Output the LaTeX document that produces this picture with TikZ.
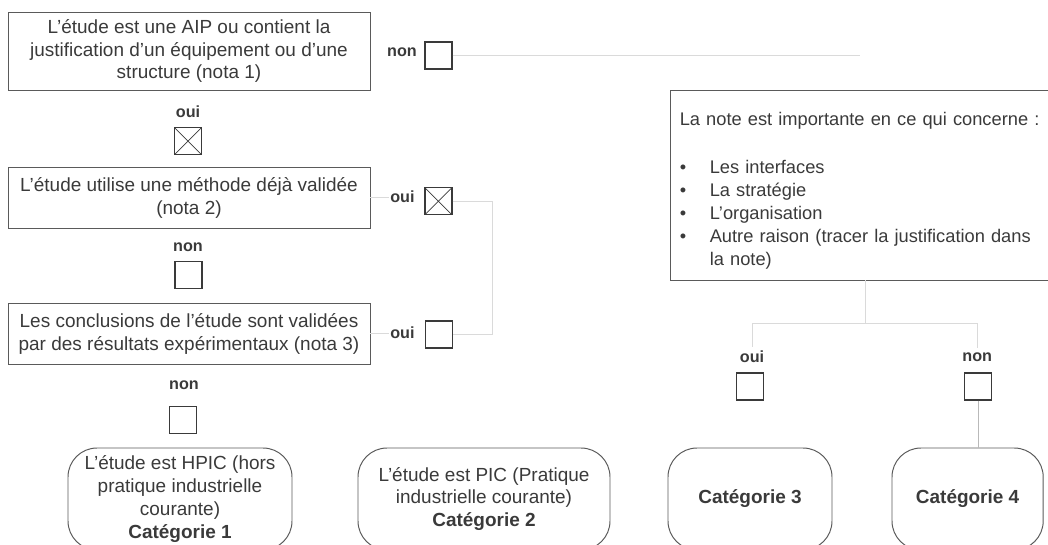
\documentclass[tikz,border=0pt]{standalone}
\usepackage{fontspec}
\setmainfont{Liberation Sans}
\usepackage{tikz}
\usetikzlibrary{positioning}
\definecolor{inkGray}{HTML}{3A3A3A}
\definecolor{frameGray}{HTML}{5A5A5A}
\definecolor{linkGray}{HTML}{DADADA}

\tikzset{
  question/.style={draw=frameGray, line width=0.7pt, minimum width=9.05cm,
    minimum height=1.525cm, align=center, text=inkGray, inner sep=0pt,
    font=\fontsize{13.5}{16.3}\selectfont},
  answer/.style={text=inkGray, inner sep=0pt,
    font=\fontsize{11.5}{13}\selectfont\bfseries},
  tickbox/.style={draw=inkGray, line width=1.1pt, minimum size=0.675cm, inner sep=0pt},
  crossbox/.style={tickbox, path picture={
    \draw[inkGray, line width=0.5pt]
      (path picture bounding box.south west) -- (path picture bounding box.north east)
      (path picture bounding box.north west) -- (path picture bounding box.south east);}},
  result/.style={draw=frameGray, line width=0.7pt, rounded corners=0.725cm,
    minimum height=2.55cm, align=center, text=inkGray, inner sep=0pt,
    font=\fontsize{13.5}{16.3}\selectfont},
  link/.style={draw=linkGray, line width=0.5pt}
}

\begin{document}
\begin{tikzpicture}
  \useasboundingbox (0,0) rectangle (26.2,-13.625);
  \clip (0,0) rectangle (26.2,-13.625);

  %% questions
  % AIP
  \node[question, minimum height=1.95cm] (aip) at (4.725,-1.275)
    {L'étude est une AIP ou contient la\\justification d'un équipement ou d'une\\structure (nota 1)};
  \node[answer] (nonA) at (10.05,-1.3) {non};
  \node[tickbox] (boxNonA) at (10.96,-1.39) {};
  \node[answer] (ouiA) at (4.7,-2.8) {oui};
  \node[crossbox] (boxOuiA) at (4.7,-3.53) {};

  % methode
  \node[question] (methode) at (4.725,-4.94)
    {L'étude utilise une méthode déjà validée\\(nota 2)};
  \node[answer] (ouiB) at (10.06,-4.93) {oui};
  \node[crossbox] (boxOuiB) at (10.96,-5.03) {};
  \node[answer] (nonB) at (4.7,-6.175) {non};
  \node[tickbox] (boxNonB) at (4.71,-6.875) {};

  % essais
  \node[question] (essais) at (4.725,-8.34)
    {Les conclusions de l'étude sont validées\\par des résultats expérimentaux (nota 3)};
  \node[answer] (ouiC) at (10.06,-8.33) {oui};
  \node[tickbox] (boxOuiC) at (10.975,-8.36) {};
  \node[answer] (nonC) at (4.6,-9.625) {non};
  \node[tickbox] (boxNonC) at (4.575,-10.5) {};

  % note
  \node[draw=frameGray, line width=0.7pt, minimum width=10.1cm, minimum height=4.75cm]
    (note) at (21.8,-4.625) {};
  \node[anchor=north west, text width=9.6cm, align=left, text=inkGray,
    inner xsep=0.25cm, inner ysep=0.56cm, font=\fontsize{13}{16.3}\selectfont]
    (noteText) at (note.north west)
    {La note est importante en ce qui concerne :\\[0.64cm]
     \makebox[0.75cm][l]{\textbullet}Les interfaces\\
     \makebox[0.75cm][l]{\textbullet}La stratégie\\
     \makebox[0.75cm][l]{\textbullet}L'organisation\\
     \makebox[0.75cm][l]{\textbullet}Autre raison (tracer la justification dans\\
     \hspace*{0.75cm}la note)};
  \node[answer] (ouiD) at (18.8,-8.925) {oui};
  \node[tickbox] (boxOuiD) at (18.75,-9.66) {};
  \node[answer] (nonD) at (24.43,-8.925) {non};
  \node[tickbox] (boxNonD) at (24.45,-9.66) {};

  %% categories
  \node[result, minimum width=5.6cm] (cat1) at (4.5,-12.475)
    {L'étude est HPIC (hors\\pratique industrielle\\courante)\\\textbf{Catégorie 1}};
  \node[result, minimum width=6.3cm] (cat2) at (12.1,-12.475)
    {L'étude est PIC (Pratique\\industrielle courante)\\\textbf{Catégorie 2}};
  \node[result, minimum width=4.1cm] (cat3) at (18.75,-12.475) {\textbf{Catégorie 3}};
  \node[result, minimum width=3.78cm] (cat4) at (24.19,-12.475) {\textbf{Catégorie 4}};

  %% connectors
  \coordinate (nonEnd) at (21.5,-1.39);
  \draw[link] (boxNonA) -- (nonEnd);
  \draw[link, shorten >=1pt] (methode.east |- ouiB) -- (ouiB);
  \draw[link, shorten >=1pt] (essais.east |- ouiC) -- (ouiC);
  \coordinate (joinB) at (12.3,-5.03);
  \coordinate (joinC) at (12.3,-8.36);
  \draw[link] (boxOuiB) -- (joinB) -- (joinC) -- (boxOuiC);
  \coordinate (fork) at (21.625,-8.075);
  \draw[link] (note.south -| fork) -- (fork);
  \draw[link] (ouiD |- fork) -- (nonD |- fork);
  \draw[link, shorten >=3pt] (ouiD |- fork) -- (ouiD);
  \draw[link, shorten >=3pt] (nonD |- fork) -- (nonD);
  \draw[draw=gray!55, line width=0.5pt] (boxNonD) -- (boxNonD |- cat4.north);
\end{tikzpicture}
\end{document}
